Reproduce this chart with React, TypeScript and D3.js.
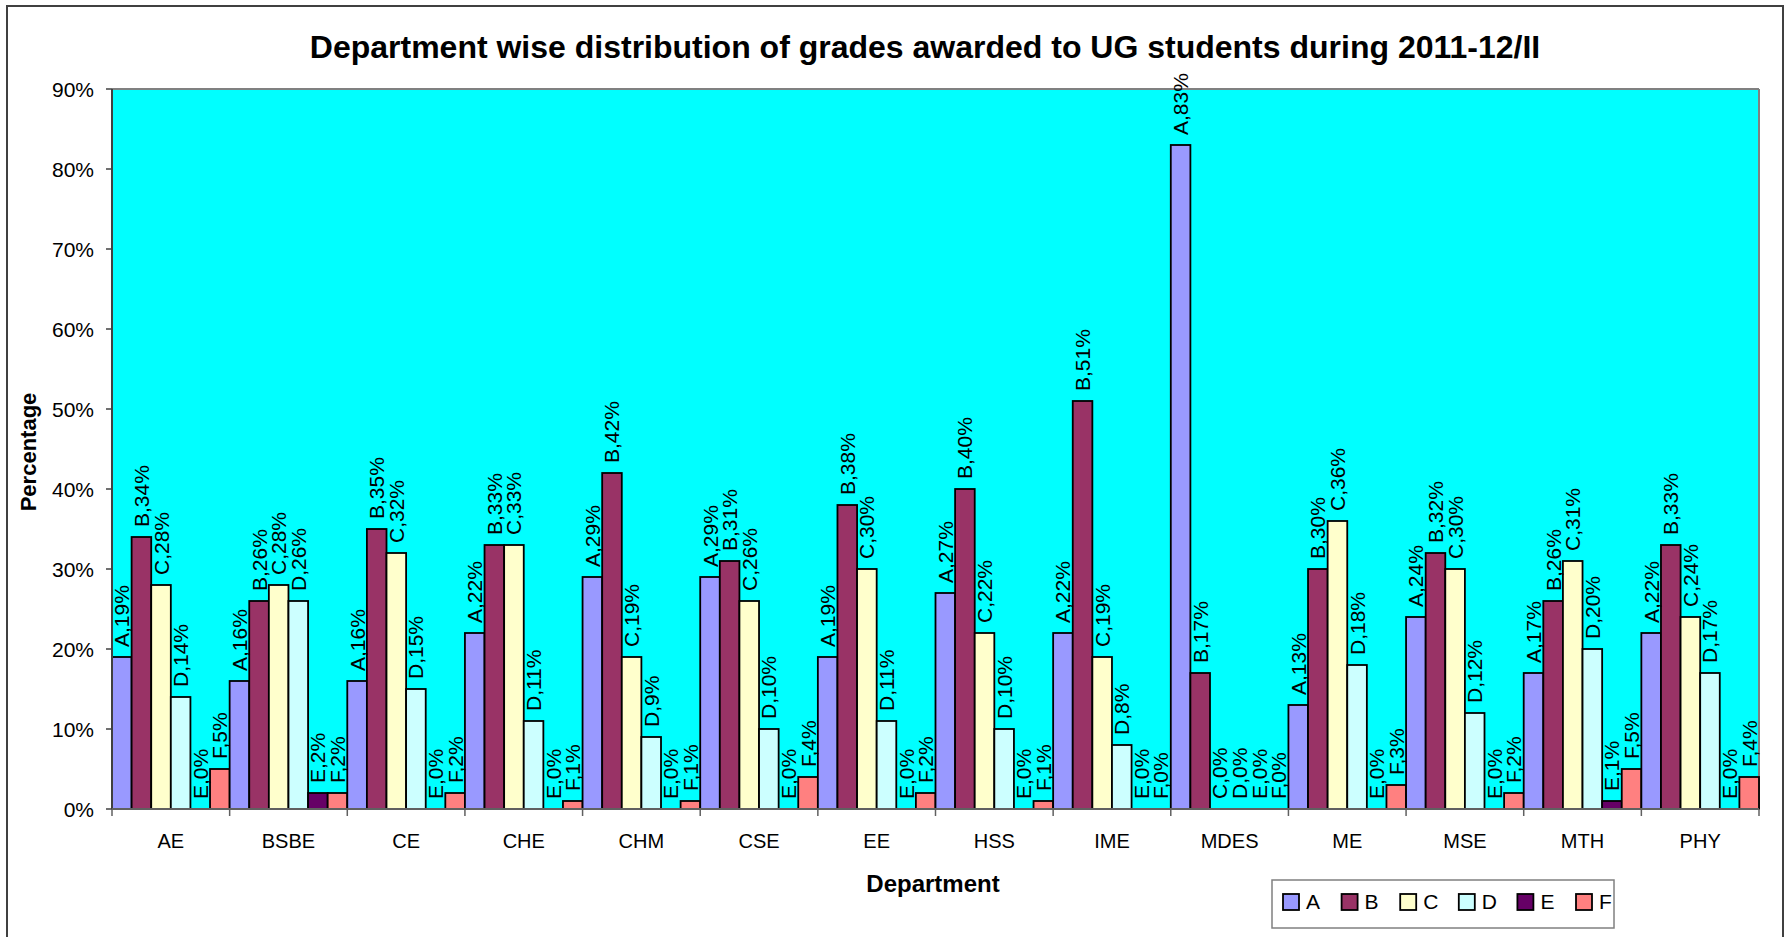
import React from "react";
import * as d3 from "d3";

const departments = ["AE", "BSBE", "CE", "CHE", "CHM", "CSE", "EE", "HSS", "IME", "MDES", "ME", "MSE", "MTH", "PHY"];
const grades = ["A", "B", "C", "D", "E", "F"];
const gradeA = [19, 16, 16, 22, 29, 29, 19, 27, 22, 83, 13, 24, 17, 22];
const gradeB = [34, 26, 35, 33, 42, 31, 38, 40, 51, 17, 30, 32, 26, 33];
const gradeC = [28, 28, 32, 33, 19, 26, 30, 22, 19, 0, 36, 30, 31, 24];
const gradeD = [14, 26, 15, 11, 9, 10, 11, 10, 8, 0, 18, 12, 20, 17];
const gradeE = [0, 2, 0, 0, 0, 0, 0, 0, 0, 0, 0, 0, 1, 0];
const gradeF = [5, 2, 2, 1, 1, 4, 2, 1, 0, 0, 3, 2, 5, 4];
const yTicks = [0, 10, 20, 30, 40, 50, 60, 70, 80, 90];
const colors = ["#9999FF", "#993366", "#FFFFCC", "#CCFFFF", "#660066", "#FF8080"];

const series = [gradeA, gradeB, gradeC, gradeD, gradeE, gradeF];

export default function App() {
  const W = 1789, H = 937;
  const left = 112, right = 1759, top = 89, bottom = 809;
  const font = "Arial, 'Liberation Sans', sans-serif";

  const x0 = d3.scaleBand<string>().domain(departments).range([left, right]).paddingInner(0).paddingOuter(0);
  const x1 = d3.scaleBand<string>().domain(grades).range([0, x0.bandwidth()]).padding(0);
  const y = d3.scaleLinear().domain([0, 90]).range([bottom, top]);

  const bars: React.ReactNode[] = [];
  const labels: React.ReactNode[] = [];
  departments.forEach((dep, i) => {
    grades.forEach((g, j) => {
      const v = series[j][i];
      const bx = (x0(dep) as number) + (x1(g) as number);
      const bw = x1.bandwidth();
      const by = y(v);
      if (v > 0) {
        bars.push(
          <rect key={`b-${i}-${j}`} x={bx} y={by} width={bw} height={bottom - by}
            fill={colors[j]} stroke="#000" strokeWidth={1.8} />
        );
      }
      const cx = bx + bw / 2;
      const ly = by - 10;
      labels.push(
        <text key={`l-${i}-${j}`} transform={`translate(${cx},${ly}) rotate(-90)`}
          textAnchor="start" dominantBaseline="central" fontSize={21} fontFamily={font} fill="#000">
          {`${g},${v}%`}
        </text>
      );
    });
  });

  const legendX = 1272, legendY = 880, legendW = 342, legendH = 48;
  const legendStep = 58.6;

  return (
    <div style={{ position: "fixed", left: 0, top: 0, width: W, height: H, background: "#fff" }}>
      <svg width={W} height={H} style={{ display: "block" }}>
        <rect x={0} y={0} width={W} height={H} fill="#fff" />
        <rect x={7} y={6} width={1776} height={H + 20} fill="none" stroke="#404040" strokeWidth={2} />
        <text x={925} y={58} textAnchor="middle" fontSize={32} fontWeight="bold" fontFamily={font} fill="#000">
          Department wise distribution of grades awarded to UG students during 2011-12/II
        </text>
        <rect x={left} y={top} width={right - left} height={bottom - top} fill="#00FFFF" />
        <line x1={left} y1={top} x2={right} y2={top} stroke="#808080" strokeWidth={2} />
        <line x1={right} y1={top} x2={right} y2={bottom} stroke="#808080" strokeWidth={2} />
        {bars}
        {labels}
        <line x1={left} y1={top} x2={left} y2={bottom} stroke="#404040" strokeWidth={2} />
        <line x1={left} y1={bottom} x2={right} y2={bottom} stroke="#606060" strokeWidth={2} />
        {yTicks.map((t) => (
          <g key={`yt-${t}`}>
            <line x1={left - 6} x2={left} y1={y(t)} y2={y(t)} stroke="#404040" strokeWidth={1.5} />
            <text x={94} y={y(t)} textAnchor="end" dominantBaseline="central" fontSize={21} fontFamily={font} fill="#000">
              {`${t}%`}
            </text>
          </g>
        ))}
        {departments.map((d, i) => (
          <g key={`xt-${d}`}>
            <line x1={x0(d) as number} x2={x0(d) as number} y1={bottom} y2={bottom + 7} stroke="#606060" strokeWidth={1.5} />
            <text x={(x0(d) as number) + x0.bandwidth() / 2} y={848} textAnchor="middle" fontSize={20} fontFamily={font} fill="#000">
              {d}
            </text>
          </g>
        ))}
        <line x1={right} x2={right} y1={bottom} y2={bottom + 7} stroke="#606060" strokeWidth={1.5} />
        <text x={933} y={892} textAnchor="middle" fontSize={24} fontWeight="bold" fontFamily={font} fill="#000">Department</text>
        <text transform={`translate(36,452) rotate(-90)`} textAnchor="middle" fontSize={22} fontWeight="bold" fontFamily={font} fill="#000">Percentage</text>
        <rect x={legendX} y={legendY} width={legendW} height={legendH} fill="#fff" stroke="#808080" strokeWidth={1.5} />
        {grades.map((g, j) => (
          <g key={`lg-${g}`}>
            <rect x={1283 + j * legendStep} y={894} width={16} height={16} fill={colors[j]} stroke="#000" strokeWidth={1.8} />
            <text x={1306 + j * legendStep} y={909} fontSize={21} fontFamily={font} fill="#000">{g}</text>
          </g>
        ))}
      </svg>
    </div>
  );
}
